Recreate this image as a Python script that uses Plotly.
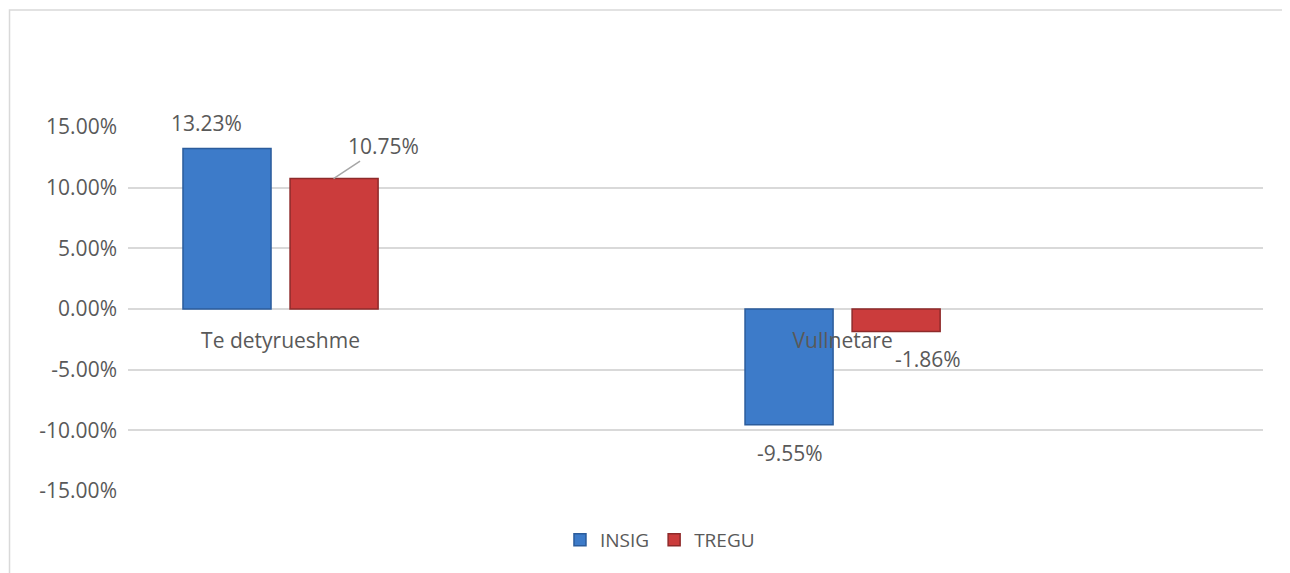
import plotly.graph_objects as go

# dados
categorias = ['Te detyrueshme', 'Vullnetare']
insig = [13.23, -9.55]
tregu = [10.75, -1.86]
ticks_y = [-15, -10, -5, 0, 5, 10, 15]
ticks_y_txt = [f'{v:.2f}%' for v in ticks_y]

cor_texto = '#595959'
fonte = 'Open Sans'

fig = go.Figure()
fig.add_trace(go.Bar(
    x=categorias, y=insig, name='INSIG',
    marker=dict(color='#3D7BC9', line=dict(color='#2B5C9C', width=1.5))
))
fig.add_trace(go.Bar(
    x=categorias, y=tregu, name='TREGU',
    marker=dict(color='#CB3C3C', line=dict(color='#8E2A2A', width=1.5))
))

# rótulos de dados (deslocamentos em pixels, como no gráfico original)
desloc = {
    ('INSIG', 0): (-74, 25), ('INSIG', 1): (-53, -28),
    ('TREGU', 1): (85, -27),
}
for nome, vals in [('INSIG', insig), ('TREGU', tregu)]:
    for i, v in enumerate(vals):
        txt = f'{v:.2f}%'
        if (nome, i) in desloc:
            dx, dy = desloc[(nome, i)]
            fig.add_annotation(x=categorias[i], y=v, text=txt, showarrow=False,
                               xshift=dx, yshift=dy, xanchor='center', yanchor='middle',
                               font=dict(family=fonte, size=21, color=cor_texto))
        else:
            # rótulo com linha de chamada
            fig.add_annotation(x=categorias[i], y=v, text=txt, showarrow=True,
                               xshift=53, ax=50, ay=-33, arrowhead=0, arrowwidth=1.5,
                               arrowcolor='#A6A6A6', standoff=0,
                               font=dict(family=fonte, size=21, color=cor_texto))

# moldura do gráfico
fig.add_shape(type='rect', xref='paper', yref='paper',
              x0=-0.1044, x1=1.2, y0=-0.3, y1=1.3214,
              line=dict(color='#D9D9D9', width=1.5), fillcolor='rgba(0,0,0,0)')

fig.update_layout(
    width=1290, height=573,
    margin=dict(l=120, r=35, t=119, b=90),
    paper_bgcolor='white', plot_bgcolor='white',
    font=dict(family=fonte, size=21, color=cor_texto),
    barmode='group', bargap=0.619, bargroupgap=0.1776,
    showlegend=True,
    legend=dict(orientation='h', x=0.4687, y=-0.1346, xanchor='center', yanchor='middle',
                font=dict(family=fonte, size=19, color=cor_texto), itemwidth=30),
    xaxis=dict(range=[-0.2714, 1.748], anchor='free', position=0.4973,
               showgrid=False, showline=False, zeroline=False,
               ticks='', ticklabelstandoff=16, tickfont=dict(size=21, color=cor_texto)),
    yaxis=dict(range=[-15, 15], tickvals=ticks_y, ticktext=ticks_y_txt,
               showgrid=True, gridcolor='#D9D9D9', gridwidth=1.5,
               zeroline=True, zerolinecolor='#D9D9D9', zerolinewidth=1.5,
               showline=False, ticks='', ticklabelstandoff=10,
               tickfont=dict(size=21, color=cor_texto)),
)

fig.write_html("out.html")
